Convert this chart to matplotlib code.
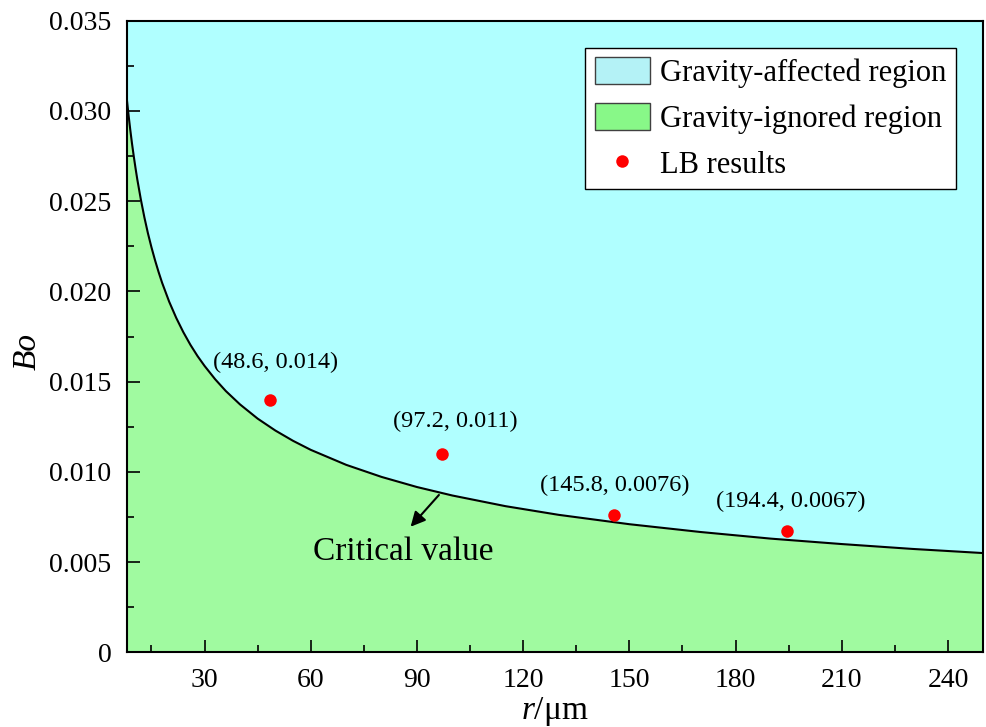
import matplotlib
matplotlib.use("Agg")
import matplotlib.pyplot as plt
from matplotlib.patches import Patch
from matplotlib.lines import Line2D
from matplotlib.ticker import MultipleLocator, FuncFormatter

# Critical Bond number curve Bo_c(r)
r_crit = [8, 8.5, 9, 9.5, 10, 10.5, 11, 12, 13, 14, 15, 16, 17, 18, 20, 22, 24, 26,
          28, 30, 33, 36, 40, 45, 50, 55, 60, 70, 80, 90, 100, 115, 130, 150, 170,
          190, 210, 230, 250]
bo_crit = [0.03072, 0.02981, 0.02897, 0.02819, 0.02748, 0.02682, 0.02620, 0.02509,
           0.02410, 0.02322, 0.02244, 0.02173, 0.02108, 0.02048, 0.01943, 0.01853,
           0.01774, 0.01704, 0.01642, 0.01587, 0.01513, 0.01448, 0.01374, 0.01295,
           0.01229, 0.01172, 0.01122, 0.01039, 0.00972, 0.00916, 0.00869, 0.00810,
           0.00762, 0.00710, 0.00667, 0.00630, 0.00600, 0.00573, 0.00550]

# Lattice Boltzmann results
r_lb = [48.6, 97.2, 145.8, 194.4]
bo_lb = [0.014, 0.011, 0.0076, 0.0067]
lb_labels = ["(48.6, 0.014)", "(97.2, 0.011)", "(145.8, 0.0076)", "(194.4, 0.0067)"]

x_ticks = [30, 60, 90, 120, 150, 180, 210, 240]
y_ticks = [0, 0.005, 0.010, 0.015, 0.020, 0.025, 0.030, 0.035]

plt.rcParams['font.family'] = ['Liberation Serif', 'DejaVu Serif']
plt.rcParams['mathtext.fontset'] = 'custom'
plt.rcParams['mathtext.rm'] = 'Liberation Serif'
plt.rcParams['mathtext.it'] = 'Liberation Serif:italic'

CYAN = '#B0FFFF'
GREEN = '#A0FAA0'

fig = plt.figure(figsize=(9.86, 7.27), dpi=100)
ax = fig.add_axes([0.1285, 0.1027, 0.8688, 0.8688])

xmin, xmax = 8, 250
ymin, ymax = 0, 0.035
ax.set_xlim(xmin, xmax)
ax.set_ylim(ymin, ymax)

ax.fill_between(r_crit, bo_crit, ymax, color=CYAN, lw=0, zorder=1)
ax.fill_between(r_crit, ymin, bo_crit, color=GREEN, lw=0, zorder=1)
ax.plot(r_crit, bo_crit, color='black', lw=1.5, zorder=3)

ax.plot(r_lb, bo_lb, 'o', color='red', ms=9, mec='none', zorder=4)

# label offsets in points relative to each LB point
label_offsets = [(4, 19), (9, 16), (0, 14), (3, 14)]
for x, y, s, off in zip(r_lb, bo_lb, lb_labels, label_offsets):
    ax.annotate(s, xy=(x, y), xytext=off, textcoords='offset points',
                ha='center', va='bottom', fontsize=17.5, zorder=5)

ax.annotate('', xy=(88.2, 0.00696), xytext=(96.2, 0.00872),
            arrowprops=dict(arrowstyle='-|>', color='black', lw=1.5,
                            mutation_scale=22, shrinkA=0, shrinkB=0),
            zorder=5)
ax.text(86.1, 0.00556, 'Critical value', fontsize=24, ha='center', va='center',
        zorder=5)

ax.set_xticks(x_ticks)
ax.set_yticks(y_ticks)
ax.xaxis.set_minor_locator(MultipleLocator(15))
ax.yaxis.set_minor_locator(MultipleLocator(0.0025))
ax.yaxis.set_major_formatter(FuncFormatter(lambda v, p: '0' if abs(v) < 1e-12 else f'{v:.3f}'))
ax.tick_params(which='both', direction='in', top=False, right=False,
               labelsize=20, width=1.2)
ax.tick_params(which='major', length=9, pad=11)
ax.tick_params(which='minor', length=5)
for sp in ax.spines.values():
    sp.set_linewidth(1.5)

ax.set_xlabel(r'$r$/μm', fontsize=24, labelpad=2)
ax.set_ylabel('Bo', fontsize=24, style='italic')
ax.yaxis.set_label_coords(-0.098, 0.477)

handles = [
    Patch(facecolor='#B4F2F6', edgecolor='#404040', lw=1.0),
    Patch(facecolor='#88F888', edgecolor='#404040', lw=1.0),
    Line2D([], [], ls='none', marker='o', color='red', ms=9, mec='none'),
]
labels = ['Gravity-affected region', 'Gravity-ignored region', 'LB results']
leg = ax.legend(handles, labels, loc='upper right', fontsize=22,
                frameon=True, fancybox=False, edgecolor='black',
                framealpha=1, handlelength=1.8, handleheight=0.95,
                labelspacing=0.5, borderaxespad=0.9, handletextpad=0.35,
                borderpad=0.3)
leg.get_frame().set_linewidth(1.0)

fig.savefig('out.png', dpi=100)
